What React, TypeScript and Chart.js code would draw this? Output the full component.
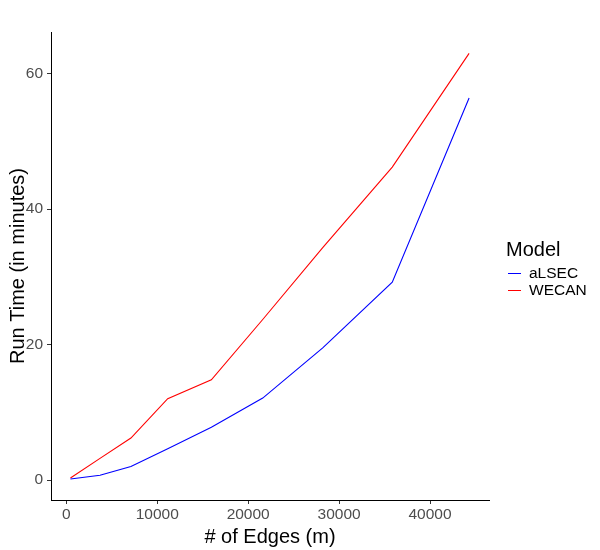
import React, { useEffect, useRef } from "react";
import { Chart, registerables } from "chart.js";

Chart.register(...registerables);

const edges = [450, 3700, 7100, 11150, 15950, 21600, 28200, 35850, 44300];
const aLSEC = [0.15, 0.7, 2.0, 4.6, 7.8, 12.1, 19.5, 29.2, 56.4];
const WECAN = [0.3, 3.2, 6.2, 12.0, 14.8, 23.7, 34.3, 46.2, 63.0];
const xTicks = [0, 10000, 20000, 30000, 40000];
const yTicks = [0, 20, 40, 60];
const seriesNames = ["aLSEC", "WECAN"];
const seriesColors = ["#0000FF", "#FF0000"];

const FONT = "'Liberation Sans', Arial, sans-serif";

export default function App() {
  const ref = useRef<HTMLCanvasElement | null>(null);

  useEffect(() => {
    if (!ref.current) return;
    const chart = new Chart(ref.current, {
      type: "line",
      data: {
        datasets: [
          {
            label: seriesNames[0],
            data: edges.map((x, i) => ({ x, y: aLSEC[i] })),
            borderColor: seriesColors[0],
            backgroundColor: seriesColors[0],
            borderWidth: 1.1,
            pointRadius: 0,
            tension: 0,
          },
          {
            label: seriesNames[1],
            data: edges.map((x, i) => ({ x, y: WECAN[i] })),
            borderColor: seriesColors[1],
            backgroundColor: seriesColors[1],
            borderWidth: 1.1,
            pointRadius: 0,
            tension: 0,
          },
        ],
      },
      options: {
        animation: false,
        responsive: false,
        devicePixelRatio: 1,
        layout: { padding: { left: 0, right: 111, top: 32, bottom: 0 } },
        plugins: { legend: { display: false }, tooltip: { enabled: false } },
        scales: {
          x: {
            type: "linear",
            min: -1690,
            max: 46490,
            afterBuildTicks: (s: any) => {
              s.ticks = xTicks.map((v) => ({ value: v }));
            },
            afterFit: (s: any) => {
              s.height = 50;
            },
            grid: {
              display: true,
              drawOnChartArea: false,
              drawTicks: true,
              tickLength: 4,
              color: "#333333",
            },
            border: { display: true, color: "#000000", width: 1 },
            ticks: {
              color: "#4D4D4D",
              font: { family: FONT, size: 15.5 },
              padding: 1,
              maxRotation: 0,
              autoSkip: false,
              callback: (v: any) => String(v),
            },
            title: {
              display: true,
              text: "# of Edges (m)",
              color: "#000000",
              font: { family: FONT, size: 20 },
              padding: { top: 0, bottom: 1 },
            },
          },
          y: {
            type: "linear",
            min: -2.95,
            max: 66.15,
            afterBuildTicks: (s: any) => {
              s.ticks = yTicks.map((v) => ({ value: v }));
            },
            afterFit: (s: any) => {
              s.width = 51;
            },
            grid: {
              display: true,
              drawOnChartArea: false,
              drawTicks: true,
              tickLength: 4,
              color: "#333333",
            },
            border: { display: true, color: "#000000", width: 1 },
            ticks: {
              color: "#4D4D4D",
              font: { family: FONT, size: 15.5 },
              padding: 4,
              autoSkip: false,
              callback: (v: any) => String(v),
            },
            title: {
              display: true,
              text: "Run Time (in minutes)",
              color: "#000000",
              font: { family: FONT, size: 20 },
              padding: { top: 6, bottom: 0 },
            },
          },
        },
      },
    });
    return () => chart.destroy();
  }, []);

  return (
    <div
      style={{
        position: "fixed",
        left: 0,
        top: 0,
        width: 600,
        height: 550,
        background: "#ffffff",
        fontFamily: FONT,
      }}
    >
      <canvas ref={ref} width={600} height={550} style={{ width: 600, height: 550, display: "block" }} />
      <div
        style={{
          position: "absolute",
          left: 506,
          top: 239,
          fontSize: 20,
          lineHeight: "20px",
          color: "#000",
          whiteSpace: "nowrap",
        }}
      >
        Model
      </div>
      {seriesNames.map((name, i) => (
        <div
          key={name}
          style={{
            position: "absolute",
            left: 508,
            top: 264 + i * 17,
            height: 18,
            display: "flex",
            alignItems: "center",
            whiteSpace: "nowrap",
          }}
        >
          <span
            style={{
              display: "inline-block",
              width: 13,
              height: 1,
              background: seriesColors[i],
              marginRight: 8,
            }}
          />
          <span style={{ fontSize: 15.5, lineHeight: "18px", color: "#000" }}>{name}</span>
        </div>
      ))}
    </div>
  );
}
